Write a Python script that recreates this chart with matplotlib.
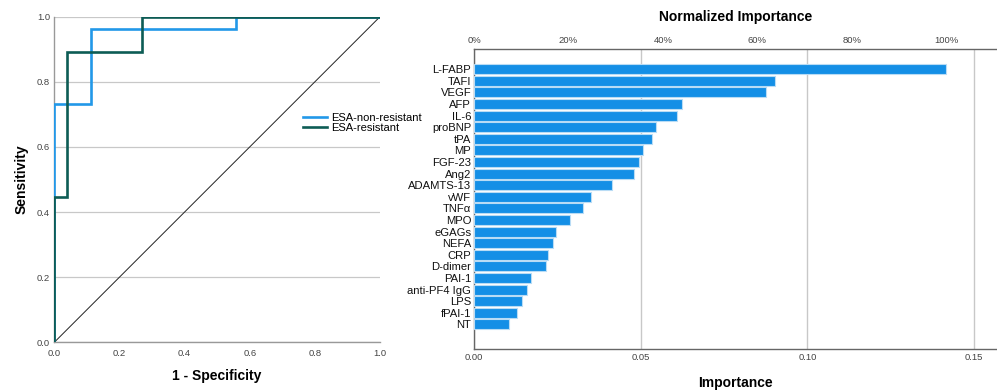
import numpy as np
import matplotlib
matplotlib.use("Agg")
import matplotlib.pyplot as plt

plt.rcParams['font.family'] = ['Liberation Sans', 'DejaVu Sans']

# --- ROC data (step points) ---
non_res_fpr = [0.0, 0.0, 0.0, 0.112, 0.112, 0.557, 0.557, 1.0]
non_res_tpr = [0.0, 0.445, 0.731, 0.731, 0.962, 0.962, 1.0, 1.0]
res_fpr = [0.0, 0.0, 0.039, 0.039, 0.270, 0.270, 1.0]
res_tpr = [0.0, 0.445, 0.445, 0.891, 0.891, 1.0, 1.0]

# --- Importance data ---
features = ["L-FABP", "TAFI", "VEGF", "AFP", "IL-6", "proBNP", "tPA", "MP",
            "FGF-23", "Ang2", "ADAMTS-13", "vWF", "TNFα", "MPO", "eGAGs",
            "NEFA", "CRP", "D-dimer", "PAI-1", "anti-PF4 IgG", "LPS",
            "fPAI-1", "NT"]
importance = [0.1417, 0.0903, 0.0876, 0.0625, 0.0610, 0.0545, 0.0535, 0.0507,
              0.0495, 0.0480, 0.0414, 0.0351, 0.0326, 0.0289, 0.0247, 0.0236,
              0.0223, 0.0216, 0.0171, 0.0158, 0.0143, 0.0128, 0.0105]
norm_ticks = [0, 20, 40, 60, 80, 100]

blue = "#2298e8"
green = "#0d5c55"
grid_c = "#c8c8c8"
spine_c = "#666666"
tick_c = "#444444"

W, H = 997, 390
fig = plt.figure(figsize=(W / 100, H / 100), dpi=100)

# --- ROC panel ---
ax1 = fig.add_axes([54.3 / W, 1 - 342.3 / H, (380 - 54.3) / W, (342.3 - 16.7) / H])
ax1.plot(non_res_fpr, non_res_tpr, color=blue, lw=1.9, label="ESA-non-resistant",
         solid_joinstyle='miter', zorder=3)
ax1.plot(res_fpr, res_tpr, color=green, lw=1.9, label="ESA-resistant",
         solid_joinstyle='miter', zorder=4)
ax1.plot([0, 1], [0, 1], color="#222222", lw=0.7, zorder=2)
ax1.set_xlim(0, 1)
ax1.set_ylim(0, 1)
ax1.set_xticks(np.arange(0, 1.01, 0.2))
ax1.set_yticks(np.arange(0, 1.01, 0.2))
ax1.xaxis.set_major_formatter(plt.FormatStrFormatter('%.1f'))
ax1.yaxis.set_major_formatter(plt.FormatStrFormatter('%.1f'))
ax1.yaxis.grid(True, color=grid_c, lw=0.9)
ax1.set_axisbelow(True)
for s in ["top", "right"]:
    ax1.spines[s].set_visible(False)
for s in ["left", "bottom"]:
    ax1.spines[s].set_color("#999999")
    ax1.spines[s].set_linewidth(1.0)
ax1.tick_params(length=0, labelsize=6.8, colors=tick_c)
ax1.tick_params(axis='x', pad=5)
ax1.tick_params(axis='y', pad=3)
ax1.set_xlabel("1 - Specificity", fontsize=10, fontweight='bold', labelpad=8)
ax1.set_ylabel("Sensitivity", fontsize=10, fontweight='bold', labelpad=6)

fig.legend(loc="center left", bbox_to_anchor=(303 / W, 1 - 123 / H), frameon=False,
           fontsize=8, handlelength=2.2, handletextpad=0.3, labelspacing=0.05,
           borderpad=0, borderaxespad=0)

# --- Importance panel ---
ax2 = fig.add_axes([474 / W, 1 - 349.3 / H, (W - 474) / W, (349.3 - 49.3) / H])
ypos = np.arange(len(features))
ax2.barh(ypos, importance, height=0.86, color="#148fe6", edgecolor="#b9dcf5",
         linewidth=0.8, zorder=3)
ax2.set_yticks(ypos)
ax2.set_yticklabels(features, fontsize=8.1, color="#111111")
ax2.set_ylim(len(features) - 1 + 2.14, -1.72)
ax2.set_xlim(0, (W - 474) / 3334)
ax2.set_xticks([0.0, 0.05, 0.10, 0.15])
ax2.xaxis.set_major_formatter(plt.FormatStrFormatter('%.2f'))
ax2.xaxis.grid(True, color=grid_c, lw=1.0)
ax2.set_axisbelow(True)
ax2.tick_params(axis='x', length=0, labelsize=6.8, colors=tick_c, pad=3)
ax2.tick_params(axis='y', length=0, pad=2)
ax2.spines["right"].set_visible(False)
for s in ["left", "bottom", "top"]:
    ax2.spines[s].set_color(spine_c)
    ax2.spines[s].set_linewidth(1.0)
ax2.set_xlabel("Importance", fontsize=10, fontweight='bold', labelpad=10)

# top axis: normalized importance
max_imp = max(importance)
ax3 = ax2.secondary_xaxis('top', functions=(lambda v: v / max_imp * 100,
                                            lambda p: p * max_imp / 100))
ax3.set_xticks(norm_ticks)
ax3.set_xticklabels([f"{t}%" for t in norm_ticks])
ax3.tick_params(length=0, labelsize=6.8, colors=tick_c, pad=3)
ax3.spines["top"].set_visible(False)
ax3.set_xlabel("Normalized Importance", fontsize=10, fontweight='bold', labelpad=11)

fig.savefig("out.png", dpi=100)
